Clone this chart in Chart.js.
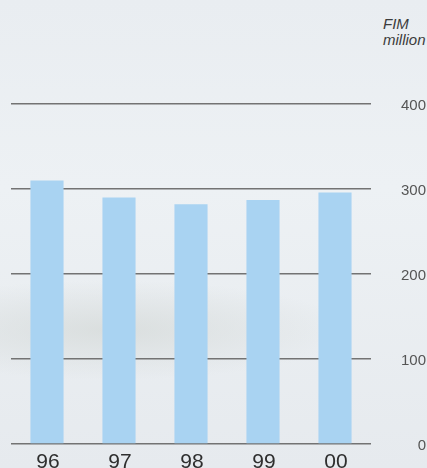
<!DOCTYPE html>
<html lang="en">
<head>
    <meta charset="UTF-8">
    <title>FIM million</title>
    <script src="https://cdn.jsdelivr.net/npm/chart.js"></script>
    <style>
        body { margin: 0; font-family: "Liberation Sans", Arial, sans-serif; }
        #fondo {
            position: relative; width: 427px; height: 468px; overflow: hidden;
            background:
                radial-gradient(ellipse 240px 50px at 110px 330px, rgba(205,210,207,0.55), rgba(205,210,207,0) 100%),
                linear-gradient(180deg, #e9edf1 0%, #edf1f4 40%, #e6eaee 100%);
        }
        #unidad {
            position: absolute; left: 383px; top: 16px;
            font-style: italic; font-size: 15px; line-height: 16px; color: #3c3c3c;
        }
        canvas { position: absolute; left: 0; top: 0; }
    </style>
</head>
<body>
    <div id="fondo">
        <div id="unidad">FIM<br>million</div>
        <canvas id="miGrafico" width="427" height="468"></canvas>
    </div>

    <script>
        const anios = ['96', '97', '98', '99', '00'];
        const valores = [310, 290, 282, 287, 296];
        const marcasY = [0, 100, 200, 300, 400];

        const ctx = document.getElementById('miGrafico').getContext('2d');

        new Chart(ctx, {
            type: 'bar',
            data: {
                labels: anios,
                datasets: [{
                    data: valores,
                    backgroundColor: '#a9d3f2',
                    borderWidth: 0,
                    barPercentage: 0.46,
                    categoryPercentage: 1
                }]
            },
            options: {
                responsive: false,
                animation: false,
                layout: { padding: { top: 104, left: 11, right: 1, bottom: 0 } },
                plugins: {
                    legend: { display: false },
                    tooltip: { enabled: false }
                },
                scales: {
                    x: {
                        offset: true,
                        grid: { display: false },
                        border: { display: false },
                        ticks: {
                            color: '#2e2e2e',
                            padding: -2,
                            labelOffset: 1,
                            font: { family: 'Liberation Sans', size: 21 }
                        },
                        afterFit: scale => { scale.height = 24; }
                    },
                    y: {
                        position: 'right',
                        min: 0,
                        max: 400,
                        afterBuildTicks: scale => {
                            scale.ticks = marcasY.map(v => ({ value: v }));
                        },
                        grid: { color: '#737373', lineWidth: 1.6, drawTicks: false },
                        border: { display: false },
                        ticks: {
                            color: '#555',
                            crossAlign: 'far',
                            padding: 0,
                            labelOffset: 2,
                            font: { family: 'Liberation Sans', size: 15 }
                        },
                        afterFit: scale => { scale.width = 55; }
                    }
                }
            }
        });
    </script>
</body>
</html>
